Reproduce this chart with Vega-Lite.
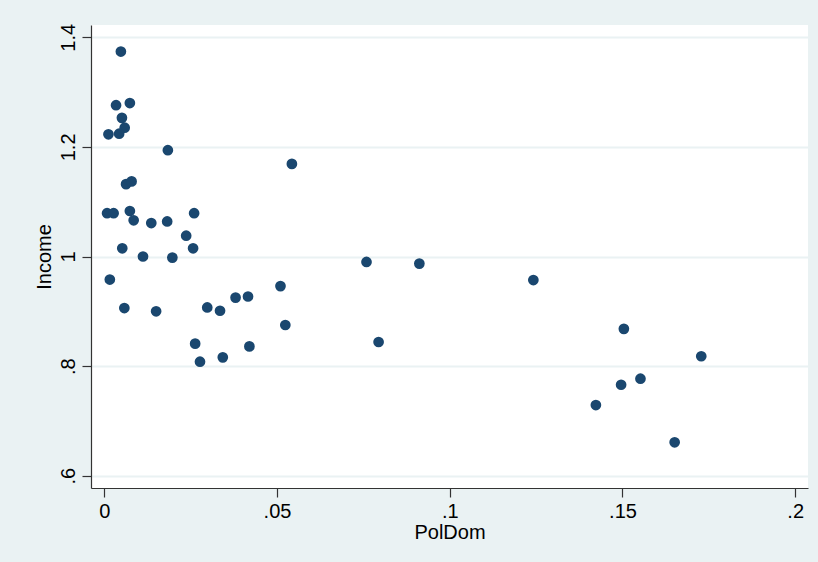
{
  "$schema": "https://vega.github.io/schema/vega-lite/v6.json",
  "width": 717,
  "height": 463,
  "autosize": {"type": "none"},
  "padding": {"left": 91, "top": 25, "right": 10, "bottom": 74},
  "background": "#EAF2F3",
  "config": {
    "view": {"fill": "white", "stroke": null},
    "font": "Liberation Sans",
    "axis": {
      "labelFont": "Liberation Sans",
      "titleFont": "Liberation Sans",
      "labelFontSize": 20,
      "titleFontSize": 20,
      "titleFontWeight": "normal",
      "labelColor": "#000000",
      "titleColor": "#000000",
      "domainColor": "#333333",
      "tickColor": "#333333",
      "domainWidth": 1.2,
      "tickWidth": 1.2,
      "tickSize": 9
    }
  },
  "data": {
    "values": [
      {"PolDom": 0.0048, "Income": 1.374},
      {"PolDom": 0.0034, "Income": 1.276},
      {"PolDom": 0.0074, "Income": 1.280},
      {"PolDom": 0.0051, "Income": 1.253},
      {"PolDom": 0.0059, "Income": 1.235},
      {"PolDom": 0.0012, "Income": 1.223},
      {"PolDom": 0.0043, "Income": 1.224},
      {"PolDom": 0.0184, "Income": 1.194},
      {"PolDom": 0.0063, "Income": 1.132},
      {"PolDom": 0.0079, "Income": 1.137},
      {"PolDom": 0.0008, "Income": 1.079},
      {"PolDom": 0.0027, "Income": 1.079},
      {"PolDom": 0.0074, "Income": 1.083},
      {"PolDom": 0.0085, "Income": 1.066},
      {"PolDom": 0.0136, "Income": 1.061},
      {"PolDom": 0.0182, "Income": 1.064},
      {"PolDom": 0.0260, "Income": 1.079},
      {"PolDom": 0.0237, "Income": 1.038},
      {"PolDom": 0.0052, "Income": 1.015},
      {"PolDom": 0.0257, "Income": 1.015},
      {"PolDom": 0.0112, "Income": 1.000},
      {"PolDom": 0.0197, "Income": 0.998},
      {"PolDom": 0.0016, "Income": 0.958},
      {"PolDom": 0.0058, "Income": 0.906},
      {"PolDom": 0.0150, "Income": 0.900},
      {"PolDom": 0.0298, "Income": 0.907},
      {"PolDom": 0.0263, "Income": 0.841},
      {"PolDom": 0.0277, "Income": 0.808},
      {"PolDom": 0.0335, "Income": 0.901},
      {"PolDom": 0.0380, "Income": 0.925},
      {"PolDom": 0.0416, "Income": 0.927},
      {"PolDom": 0.0510, "Income": 0.946},
      {"PolDom": 0.0524, "Income": 0.875},
      {"PolDom": 0.0420, "Income": 0.836},
      {"PolDom": 0.0343, "Income": 0.816},
      {"PolDom": 0.0543, "Income": 1.169},
      {"PolDom": 0.0759, "Income": 0.990},
      {"PolDom": 0.0912, "Income": 0.987},
      {"PolDom": 0.1242, "Income": 0.957},
      {"PolDom": 0.0794, "Income": 0.844},
      {"PolDom": 0.1504, "Income": 0.868},
      {"PolDom": 0.1728, "Income": 0.818},
      {"PolDom": 0.1552, "Income": 0.777},
      {"PolDom": 0.1496, "Income": 0.766},
      {"PolDom": 0.1423, "Income": 0.729},
      {"PolDom": 0.1651, "Income": 0.661}
    ]
  },
  "mark": {"type": "circle", "size": 115, "color": "#1A476F", "opacity": 1},
  "encoding": {
    "x": {
      "field": "PolDom",
      "type": "quantitative",
      "title": "PolDom",
      "scale": {"domain": [-0.00385, 0.2037], "nice": false, "zero": false},
      "axis": {
        "values": [0, 0.05, 0.1, 0.15, 0.2],
        "grid": false,
        "labelPadding": 4,
        "titlePadding": 1,
        "labelExpr": "replace(toString(datum.value), /^0\\./, '.')"
      }
    },
    "y": {
      "field": "Income",
      "type": "quantitative",
      "title": "Income",
      "scale": {"domain": [0.5776, 1.4224], "nice": false, "zero": false},
      "axis": {
        "values": [0.6, 0.8, 1, 1.2, 1.4],
        "grid": true,
        "gridColor": "#EAF2F3",
        "gridWidth": 2,
        "labelAngle": -90,
        "labelAlign": "center",
        "labelBaseline": "alphabetic",
        "labelPadding": 8,
        "titlePadding": 4,
        "labelExpr": "replace(toString(datum.value), /^0\\./, '.')"
      }
    }
  }
}
